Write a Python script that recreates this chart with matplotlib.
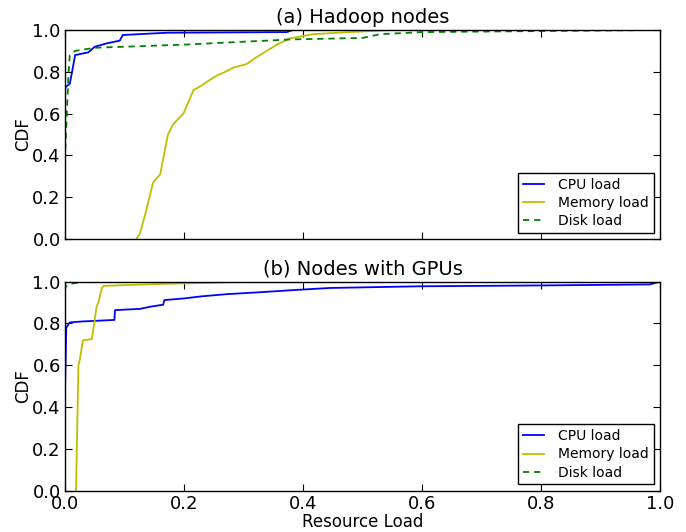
import matplotlib
matplotlib.use("Agg")
import matplotlib.pyplot as plt

# (a) Hadoop nodes: CDF sample points (load, cumulative fraction)
hadoop_cpu_x = [0.0, 0.0, 0.0, 0.003, 0.008, 0.017, 0.039, 0.05, 0.07, 0.092, 0.097, 0.171, 0.373, 0.383, 1.0]
hadoop_cpu_y = [0.0, 0.52, 0.72, 0.732, 0.742, 0.88, 0.893, 0.92, 0.936, 0.949, 0.976, 0.987, 0.99, 1.0, 1.0]

hadoop_mem_x = [0.12, 0.126, 0.135, 0.148, 0.16, 0.173, 0.182, 0.199, 0.216, 0.227, 0.24, 0.257,
                0.266, 0.283, 0.305, 0.322, 0.339, 0.356, 0.378, 0.417, 0.479, 0.55, 1.0]
hadoop_mem_y = [0.0, 0.027, 0.12, 0.27, 0.31, 0.5, 0.55, 0.6, 0.713, 0.73, 0.755, 0.785,
                0.795, 0.82, 0.837, 0.87, 0.9, 0.93, 0.96, 0.98, 0.99, 1.0, 1.0]

hadoop_disk_x = [0.0, 0.0, 0.003, 0.006, 0.008, 0.017, 0.05, 0.2, 0.38, 0.5, 0.53, 0.6, 0.8, 1.0]
hadoop_disk_y = [0.0, 0.4, 0.6, 0.8, 0.88, 0.9, 0.915, 0.93, 0.955, 0.962, 0.98, 0.99, 0.995, 1.0]

# (b) Nodes with GPUs
gpu_cpu_x = [0.0, 0.0, 0.002, 0.008, 0.03, 0.083, 0.084, 0.126, 0.143, 0.165, 0.167, 0.2, 0.23, 0.27,
             0.33, 0.385, 0.445, 0.597, 0.798, 0.983, 1.0]
gpu_cpu_y = [0.0, 0.48, 0.78, 0.805, 0.81, 0.817, 0.864, 0.87, 0.88, 0.89, 0.912, 0.92, 0.93, 0.94,
             0.95, 0.96, 0.97, 0.978, 0.982, 0.987, 1.0]

gpu_mem_x = [0.0185, 0.0225, 0.025, 0.03, 0.045, 0.049, 0.053, 0.056, 0.062, 0.065, 0.115, 0.17, 0.25, 0.3, 1.0]
gpu_mem_y = [0.0, 0.6, 0.63, 0.72, 0.725, 0.8, 0.88, 0.9, 0.97, 0.98, 0.985, 0.99, 0.995, 1.0, 1.0]

gpu_disk_x = [0.0, 0.0, 0.01, 0.03, 1.0]
gpu_disk_y = [0.0, 0.975, 0.99, 1.0, 1.0]

labels = ["CPU load", "Memory load", "Disk load"]
ticks = [0.0, 0.2, 0.4, 0.6, 0.8, 1.0]

plt.rcParams["font.family"] = "DejaVu Sans"
plt.rcParams["xtick.direction"] = "in"
plt.rcParams["ytick.direction"] = "in"
plt.rcParams["xtick.top"] = True
plt.rcParams["ytick.right"] = True
plt.rcParams["xtick.major.size"] = 5
plt.rcParams["ytick.major.size"] = 5
plt.rcParams["axes.linewidth"] = 1.0
plt.rcParams["lines.scale_dashes"] = False

fig = plt.figure(figsize=(6.86, 5.32), dpi=100)
ax1 = fig.add_axes([0.0948, 0.5508, 0.8672, 0.3928])
ax2 = fig.add_axes([0.0948, 0.0776, 0.8672, 0.3929])

panels = [
    (ax1, "(a) Hadoop nodes", (hadoop_cpu_x, hadoop_cpu_y), (hadoop_mem_x, hadoop_mem_y), (hadoop_disk_x, hadoop_disk_y)),
    (ax2, "(b) Nodes with GPUs", (gpu_cpu_x, gpu_cpu_y), (gpu_mem_x, gpu_mem_y), (gpu_disk_x, gpu_disk_y)),
]

for ax, title, cpu, mem, disk in panels:
    ax.plot(cpu[0], cpu[1], color="#0000ff", lw=1.3, label=labels[0])
    ax.plot(mem[0], mem[1], color="#bfbf00", lw=1.3, label=labels[1])
    ax.plot(disk[0], disk[1], color="#008000", lw=1.3, ls="--", dashes=(4.5, 3.5), label=labels[2])
    ax.set_xlim(0, 1)
    ax.set_ylim(0, 1)
    ax.set_xticks(ticks)
    ax.set_yticks(ticks)
    ax.tick_params(labelsize=13, pad=3)
    ax.set_ylabel("CDF", fontsize=12, labelpad=0)
    ax.set_title(title, fontsize=14, pad=5)
    leg = ax.legend(loc="lower right", fontsize=10, fancybox=False, framealpha=1,
                    handlelength=1.5, handletextpad=1.0, labelspacing=0.3,
                    borderaxespad=0.45, borderpad=0.35)
    leg.get_frame().set_edgecolor("black")

ax1.tick_params(labelbottom=False)
ax2.set_xlabel("Resource Load", fontsize=12, labelpad=0)

fig.savefig("out.png", dpi=100, facecolor="white")
